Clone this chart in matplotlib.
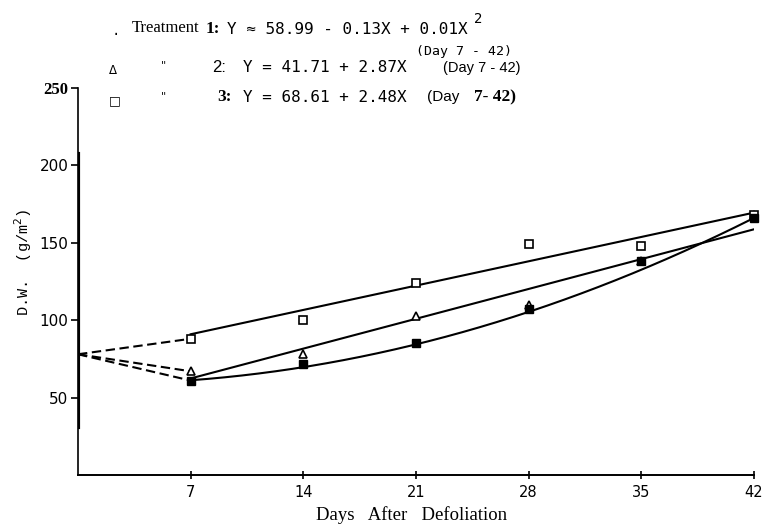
import numpy as np
import matplotlib
matplotlib.use("Agg")
import matplotlib.pyplot as plt

# ---------------- data ----------------
days = [7, 14, 21, 28, 35, 42]
t1_values = [61, 72, 85, 107, 138, 166]    # filled squares
t2_values = [67, 78, 103, 110, 138, 168]   # open triangles
t3_values = [88, 100, 124, 149, 148, 168]  # open squares

start_day = 0
start_value = 78           # common value at day 0 (dashed lines)

# coefficients of the drawn fitted curves (as they appear in the picture)
t1_curve = [58.99, -0.13, 0.0638]   # quadratic: a + bX + cX^2
t2_line = [43.1, 2.753]             # a + bX
t3_line = [75.2, 2.245]

x_ticks = [7, 14, 21, 28, 35, 42]
y_ticks = [50, 100, 150, 200, 250]
y_tick_labels = ["50", "100", "150", "200", "250"]

W, H = 766, 528
fig = plt.figure(figsize=(W / 100, H / 100), dpi=100)
fig.patch.set_facecolor("white")

ax = fig.add_axes([78 / W, 1 - 475 / H, 676 / W, (475 - 88) / H])
ax.set_xlim(0, 42)
ax.set_ylim(0, 250)

# dashed lines from day 0 to day 7 points
for vals in (t3_values, t2_values, t1_values):
    ax.plot([start_day, days[0]], [start_value, vals[0]], color="black",
            lw=1.5, dashes=(4.5, 2.2), zorder=2)

xx = np.linspace(days[0], days[-1], 200)
ax.plot(xx, t1_curve[0] + t1_curve[1] * xx + t1_curve[2] * xx ** 2,
        color="black", lw=1.5, zorder=2)
ax.plot(xx, t2_line[0] + t2_line[1] * xx, color="black", lw=1.5, zorder=2)
ax.plot(xx, t3_line[0] + t3_line[1] * xx, color="black", lw=1.5, zorder=2)

ax.plot(days, t2_values, linestyle="none", marker="^", ms=5.5,
        mfc="white", mec="black", mew=1.2, zorder=3, clip_on=False)
ax.plot(days, t3_values, linestyle="none", marker="s", ms=5.5,
        mfc="white", mec="black", mew=1.2, zorder=3, clip_on=False)
ax.plot(days, t1_values, linestyle="none", marker="s", ms=5.5,
        mfc="black", mec="black", mew=1.0, zorder=4, clip_on=False)

# axes styling
for s in ("top", "right"):
    ax.spines[s].set_visible(False)
ax.spines["left"].set_linewidth(1.2)
ax.spines["bottom"].set_linewidth(1.4)
ax.axvline(0, ymin=0.125, ymax=0.83, color="black", lw=3.0, zorder=5)

ax.set_xticks(x_ticks)
ax.set_xticklabels([str(d) for d in x_ticks], fontsize=10.5,
                   family="DejaVu Sans")
ax.tick_params(axis="x", direction="inout", length=6, width=1.2, pad=4)

ax.set_yticks(y_ticks)
ax.set_yticklabels(y_tick_labels, fontsize=11, family="DejaVu Sans")
ax.tick_params(axis="y", direction="out", length=5, width=1.2, pad=2)
lbl250 = ax.get_yticklabels()[-1]
lbl250.set_fontfamily("Liberation Serif")
lbl250.set_fontweight("bold")
lbl250.set_fontsize(12)

fig.text(412 / W, 1 - 515 / H, "Days   After   Defoliation", ha="center",
         va="center", fontsize=13.5, family="Liberation Serif")
fig.text(23 / W, 1 - 262 / H, "D.W.  (g/m$^2$)", rotation=90, ha="center",
         va="center", fontsize=11, family="Liberation Mono")


def t(x, y, s, **kw):
    fig.text(x / W, 1 - y / H, s, ha="left", va="center", **kw)


mono2 = dict(family="DejaVu Sans Mono", fontsize=11.5)
sans = dict(family="Liberation Sans", fontsize=12)
bser = dict(family="Liberation Serif", fontsize=12.5, fontweight="bold")

# legend line 1
t(112, 31, ".", family="Liberation Mono", fontsize=10)
t(132, 28, "Treatment", family="Liberation Serif", fontsize=12)
t(206, 29, "1:", **bser)
t(227, 29, "Y \u2248 58.99 - 0.13X + 0.01X", **mono2)
t(474, 19, "2", family="DejaVu Sans Mono", fontsize=10)
t(416, 52, "(Day 7 - 42)", family="DejaVu Sans Mono", fontsize=9.5)
# legend line 2
t(109, 70, "\u0394", family="DejaVu Sans", fontsize=8.5)
t(161, 65, "\"", family="DejaVu Sans", fontsize=8)
t(212, 68, "2:", **sans)
t(243, 68, "Y = 41.71 + 2.87X", **mono2)
t(443, 68, "(Day 7 - 42)", family="Liberation Sans", fontsize=10.5)
# legend line 3
t(109, 101, "\u25a1", family="DejaVu Sans", fontsize=9, fontweight="bold")
t(161, 96, "\"", family="DejaVu Sans", fontsize=8)
t(217, 97, "3:", **bser)
t(243, 97, "Y = 68.61 + 2.48X", **mono2)
t(427, 97, "(Day", family="Liberation Sans", fontsize=11)
t(474, 97, "7- 42)", **bser)

fig.savefig("out.png", dpi=100, facecolor="white")
